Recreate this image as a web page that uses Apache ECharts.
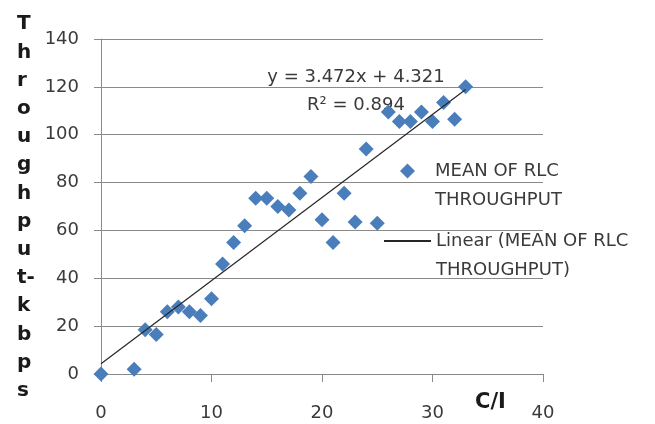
<!DOCTYPE html>
<html>
<head>
<meta charset="utf-8">
<title>Throughput vs C/I</title>
<script src="https://cdn.jsdelivr.net/npm/echarts@6/dist/echarts.min.js"></script>
<style>
  html, body { margin: 0; padding: 0; background: #fff; }
  #main { width: 655px; height: 424px; }
</style>
</head>
<body>
<div id="main"></div>
<script>
// C/I (x) and mean RLC throughput in kbps (y)
var ciValues = [0, 3, 4, 5, 6, 7, 8, 9, 10, 11, 12, 13, 14, 15, 16, 17,
  18, 19, 20, 21, 22, 23, 24, 25, 26, 27, 28, 29, 30, 31, 32, 33];
var throughput = [0, 2, 18.5, 16.5, 26, 28, 26, 24.5, 31.5, 46, 55, 62, 73.5, 73.5, 70, 68.5,
  75.5, 82.5, 64.5, 55, 75.5, 63.5, 94, 63, 109.5, 105.5, 105.5, 109.5, 105.5, 113.5, 106.5, 120];

// linear trendline as printed on the chart
var trendSlope = 3.472;
var trendIntercept = 4.321;
var trendR2 = '0.894';

var seriesName = 'MEAN OF RLC THROUGHPUT';
var trendName = 'Linear (MEAN OF RLC THROUGHPUT)';
var yTitleLines = ['T', 'h', 'r', 'o', 'u', 'g', 'h', 'p', 'u', 't-', 'k', 'b', 'p', 's'];
var xTitle = 'C/I';

var FONT = 'DejaVu Sans';
var GRID = '#8a8a8a';
var TEXT = '#3a3a3a';

var points = ciValues.map(function (x, i) { return [x, throughput[i]]; });
var xLast = Math.max.apply(null, ciValues);
var trendData = [[0, trendIntercept], [xLast, trendSlope * xLast + trendIntercept]];

var chart = echarts.init(document.getElementById('main'));
chart.setOption({
  animation: false,
  textStyle: { fontFamily: FONT },
  grid: { left: 101, right: 112, top: 39, bottom: 50 },
  xAxis: {
    type: 'value',
    min: 0, max: 40, interval: 10,
    axisLine: { lineStyle: { color: GRID, width: 1 } },
    axisTick: { show: true, length: 8, lineStyle: { color: GRID } },
    splitLine: { show: false },
    axisLabel: { color: TEXT, fontSize: 18, fontFamily: FONT, margin: 30 }
  },
  yAxis: {
    type: 'value',
    min: 0, max: 140, interval: 20,
    axisLine: { show: true, lineStyle: { color: GRID, width: 1 } },
    axisTick: { show: true, length: 7, lineStyle: { color: GRID } },
    splitLine: { show: true, lineStyle: { color: GRID, width: 1 } },
    axisLabel: { color: TEXT, fontSize: 18, fontFamily: FONT, margin: 22 }
  },
  // legend text: a blank first line so the icon sits level with the first text line
  legend: [{
    data: [seriesName],
    left: 400, top: 127.5, padding: 0,
    itemWidth: 15, itemHeight: 15,
    icon: 'diamond',
    selectedMode: false,
    formatter: function () { return '\nMEAN OF RLC\nTHROUGHPUT'; },
    textStyle: { color: TEXT, fontSize: 18, fontFamily: FONT, lineHeight: 29, padding: [0, 0, 0, 15] }
  }, {
    data: [trendName],
    left: 383, top: 197.5, padding: 0,
    itemWidth: 47, itemHeight: 15,
    selectedMode: false,
    itemStyle: { opacity: 0 },
    formatter: function () { return '\nLinear (MEAN OF RLC\nTHROUGHPUT)'; },
    textStyle: { color: TEXT, fontSize: 18, fontFamily: FONT, lineHeight: 29 }
  }],
  graphic: [{
    type: 'text', left: 17, top: 10,
    style: {
      text: yTitleLines.join('\n'),
      font: 'bold 20px "' + FONT + '"',
      lineHeight: 28.2,
      fill: '#1a1a1a'
    }
  }, {
    type: 'text', left: 475, top: 392,
    style: { text: xTitle, font: 'bold 21px "' + FONT + '"', fill: '#1a1a1a' }
  }, {
    type: 'text', x: 356, y: 77,
    style: {
      text: 'y = ' + trendSlope + 'x + ' + trendIntercept,
      font: '18px "' + FONT + '"', fill: TEXT, align: 'center', verticalAlign: 'middle'
    }
  }, {
    type: 'text', x: 356, y: 105,
    style: {
      text: 'R² = ' + trendR2,
      font: '18px "' + FONT + '"', fill: TEXT, align: 'center', verticalAlign: 'middle'
    }
  }],
  series: [{
    name: seriesName,
    type: 'scatter',
    symbol: 'diamond',
    symbolSize: 15,
    itemStyle: { color: '#4a7ebb', opacity: 1 },
    data: points
  }, {
    name: trendName,
    type: 'line',
    symbol: 'none',
    showSymbol: false,
    z: 5,
    silent: true,
    lineStyle: { color: '#262626', width: 1.2 },
    data: trendData
  }]
});
</script>
</body>
</html>
